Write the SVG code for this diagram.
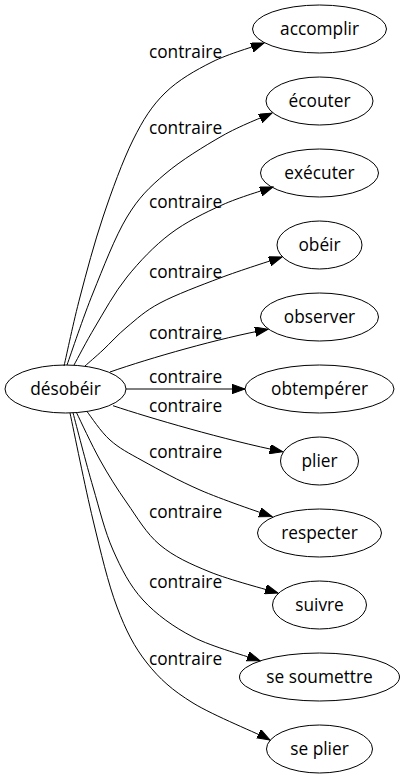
<svg xmlns="http://www.w3.org/2000/svg" width="404" height="779" viewBox="0 0 404 779">
<style>
text{font-family:"Open Sans","DejaVu Sans",sans-serif;font-size:17.3px;fill:#000;text-anchor:middle}
ellipse{fill:none;stroke:#000;stroke-width:1}
.e path{fill:none;stroke:#000;stroke-width:1;marker-end:url(#ah)}
</style>
<defs>
<marker id="ah" markerUnits="userSpaceOnUse" markerWidth="14" markerHeight="10" refX="13" refY="4.7" orient="auto" viewBox="0 0 14 10">
<path d="M0,0 L13,4.7 L0,9.4 Z" fill="#000" stroke="#000" stroke-width="1"/>
</marker>
</defs>
<rect width="404" height="779" fill="#fff"/>
<g class="e" id="edges">
<path d="M64,366 C66.7,354.5 73.5,321.8 80,297 C86.5,272.2 94.2,243.2 103,217 C111.8,190.8 122.7,160.7 133,140 C143.3,119.3 151.8,106 165,93 C178.2,80 195.5,70.3 212,62 C228.5,53.7 255.3,46.2 264,43"/>
<path d="M67,365 C71.3,353 83,317.7 93,293 C103,268.3 115,236.8 127,217 C139,197.2 149.2,187.5 165,174 C180.8,160.5 204.2,146.2 222,136 C239.8,125.8 263.7,116.8 272,113"/>
<path d="M74,365 C77.5,358.7 86.2,341.7 95,327 C103.8,312.3 114.5,292.5 127,277 C139.5,261.5 154.2,246 170,234 C185.8,222 204.8,212.8 222,205 C239.2,197.2 264.5,190 273,187"/>
<path d="M85,366 C88,363.3 96,356.5 103,350 C110,343.5 117.5,334.8 127,327 C136.5,319.2 144.5,311.2 160,303 C175.5,294.8 199.7,285.7 220,278 C240.3,270.3 271.7,260.5 282,257"/>
<path d="M110,372 C150,358 220,338 268,329.3"/>
<path d="M126,389 L245,389"/>
<path d="M113,405.7 C150,418 225,440 282.7,451.7"/>
<path d="M87,411.5 C90.8,416.3 100.7,431.8 110,440 C119.3,448.3 128,452.7 143,461 C158,469.3 178.7,480.7 200,490 C221.3,499.3 259.2,512.2 272,516.5"/>
<path d="M76.5,412.6 C80.4,420.5 91.6,444.9 100,460 C108.4,475.1 117,488.8 127,503 C137,517.2 146.2,533.5 160,545 C173.8,556.5 190.3,564 210,572 C229.7,580 266.7,589.5 278,593"/>
<path d="M73,412.8 C76.3,425.2 86.3,464.1 93,487 C99.7,509.9 104.7,531.2 113,550 C121.3,568.8 129.7,585.5 143,600 C156.3,614.5 173.5,626.9 193,637 C212.5,647.1 248.8,656.7 260,660.7"/>
<path d="M70,413 C73.8,430.8 85.2,487.7 93,520 C100.8,552.3 108,583.2 117,607 C126,630.8 134.3,647 147,663 C159.7,679 172.2,690.2 193,703 C213.8,715.8 258.8,733.8 270,740"/>
</g>
<g id="edge-labels">
<text x="185.5" y="58.3">contraire</text>
<text x="185.5" y="134">contraire</text>
<text x="185.5" y="208.3">contraire</text>
<text x="185.5" y="278.3">contraire</text>
<text x="185.5" y="339.3">contraire</text>
<text x="185.5" y="383.3">contraire</text>
<text x="185.5" y="411.7">contraire</text>
<text x="185.5" y="458.3">contraire</text>
<text x="185.5" y="518.3">contraire</text>
<text x="185.5" y="588.3">contraire</text>
<text x="185.5" y="665">contraire</text>
</g>
<g id="n-desobeir"><ellipse cx="65.5" cy="389" rx="60.5" ry="24"/><text x="65.5" y="394.5">désobéir</text></g>
<g id="n-accomplir"><ellipse cx="319.5" cy="29" rx="67" ry="24"/><text x="319.5" y="34.5">accomplir</text></g>
<g id="n-ecouter"><ellipse cx="319.5" cy="101" rx="53.5" ry="24"/><text x="319.5" y="106.5">écouter</text></g>
<g id="n-executer"><ellipse cx="319.5" cy="173" rx="59" ry="24"/><text x="319.5" y="178.5">exécuter</text></g>
<g id="n-obeir"><ellipse cx="319.5" cy="245" rx="42.5" ry="24"/><text x="319.5" y="250.5">obéir</text></g>
<g id="n-observer"><ellipse cx="319.5" cy="317" rx="59" ry="24"/><text x="319.5" y="322.5">observer</text></g>
<g id="n-obtemperer"><ellipse cx="319.5" cy="389" rx="74.5" ry="24"/><text x="319.5" y="394.5">obtempérer</text></g>
<g id="n-plier"><ellipse cx="319.5" cy="461" rx="39" ry="24"/><text x="319.5" y="466.5">plier</text></g>
<g id="n-respecter"><ellipse cx="319.5" cy="533" rx="62" ry="24"/><text x="319.5" y="538.5">respecter</text></g>
<g id="n-suivre"><ellipse cx="319.5" cy="605" rx="47" ry="24"/><text x="319.5" y="610.5">suivre</text></g>
<g id="n-se-soumettre"><ellipse cx="319.5" cy="677" rx="80" ry="24"/><text x="319.5" y="682.5">se soumettre</text></g>
<g id="n-se-plier"><ellipse cx="319.5" cy="749" rx="53" ry="24"/><text x="319.5" y="754.5">se plier</text></g>
</svg>
